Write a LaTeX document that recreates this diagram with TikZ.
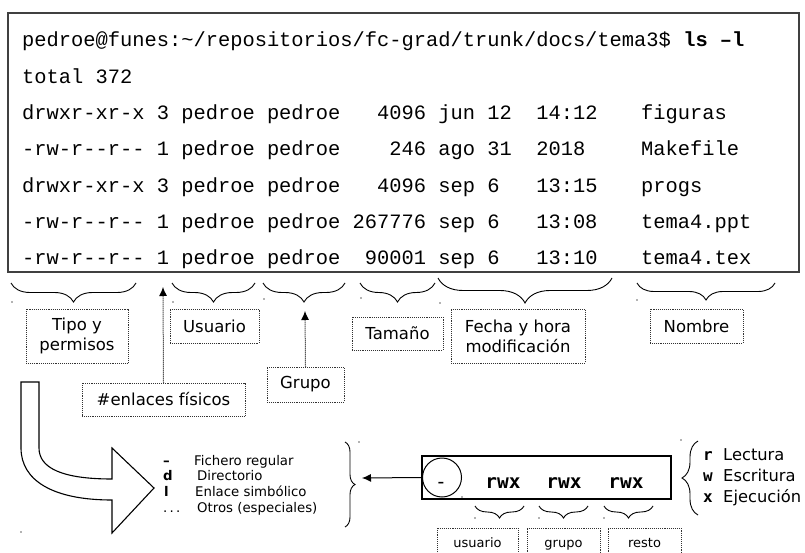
\documentclass[tikz,border=0pt]{standalone}
\usepackage{fontspec}
\setmainfont{DejaVu Sans}
\newfontfamily\term[Ligatures=TeXOff]{Liberation Mono}
\newfontfamily\dmono[Ligatures=TeXOff]{DejaVu Sans Mono}
\usetikzlibrary{decorations.pathreplacing,arrows.meta}

\begin{document}
\begin{tikzpicture}[x=1pt,y=-1pt,
  tline/.style={anchor=base west,inner sep=0pt,font=\term\fontsize{20.4}{24}\selectfont},
  tagbox/.style={draw=black!80,densely dotted,line width=0.9pt,align=center,inner sep=0pt,
                 font=\fontsize{16.5}{20}\selectfont},
  smalltag/.style={tagbox,font=\fontsize{13}{15}\selectfont,text height=9.5pt,text depth=2.5pt},
  cbrace/.style={decorate,decoration={brace,mirror,amplitude=#1},line width=0.9pt},
  rbrace/.style={decorate,decoration={brace,amplitude=#1},line width=0.9pt},
  ptr/.style={densely dotted,line width=1pt,-{Latex[length=9pt,width=8pt]}},
  solidptr/.style={line width=1pt,-{Latex[length=9pt,width=8pt]}},
  leg/.style={anchor=base west,inner sep=0pt,font=\fontsize{13.3}{15}\selectfont},
  bits/.style={anchor=base,inner sep=0pt,font=\dmono\bfseries\fontsize{19.5}{22}\selectfont},
  key/.style={anchor=base west,inner sep=0pt,font=\dmono\bfseries\fontsize{16}{19}\selectfont},
  keyword/.style={anchor=base west,inner sep=0pt,font=\fontsize{16.3}{19}\selectfont},
  speck/.style={fill=black!60}
]
\useasboundingbox (0,0) rectangle (805,553);
\clip (0,0) rectangle (805,553);

% terminal listing
\draw[black!75,line width=1.6pt] (8,13) rectangle (799,272);
\node[tline] (r1) at (22,47) {pedroe@funes:\textasciitilde/repositorios/fc-grad/trunk/docs/tema3\$ \textbf{ls –l}};
\node[tline] (r2) at (22,83.3) {total 372};
\node[tline] (r3) at (22,119.6) {drwxr-xr-x~3~pedroe~pedroe~~~4096~jun~12~~14:12};
\node[tline] (r4) at (22,155.9) {-rw-r--r--~1~pedroe~pedroe~~~~246~ago~31~~2018};
\node[tline] (r5) at (22,192.2) {drwxr-xr-x~3~pedroe~pedroe~~~4096~sep~6~~~13:15};
\node[tline] (r6) at (22,228.5) {-rw-r--r--~1~pedroe~pedroe~267776~sep~6~~~13:08};
\node[tline] (r7) at (22,264.8) {-rw-r--r--~1~pedroe~pedroe~~90001~sep~6~~~13:10};
\node[tline] (n3) at (641,119.6) {figuras};
\node[tline] (n4) at (641,155.9) {Makefile};
\node[tline] (n5) at (641,192.2) {progs};
\node[tline] (n6) at (641,228.5) {tema4.ppt};
\node[tline] (n7) at (641,264.8) {tema4.tex};

% braces under the columns
\draw[cbrace=19pt] (11,283) -- (136,283);
\draw[cbrace=19pt] (172,283) -- (255,283);
\draw[cbrace=19pt] (263,283) -- (345,283);
\draw[cbrace=19pt] (360,283) -- (435,283);
\draw[cbrace=25pt] (438,278) -- (612,278);
\draw[cbrace=17pt] (637,283) -- (775,283);

% column labels
\node[tagbox,minimum width=102pt,minimum height=54pt] (tipo) at (77,336) {Tipo y\\permisos};
\node[tagbox,minimum width=89pt,minimum height=34pt] (usr) at (214.5,326) {Usuario};
\node[tagbox,minimum width=77pt,minimum height=35pt] (grp) at (305.5,384.5) {Grupo};
\node[tagbox,minimum width=163pt,minimum height=33pt] (enl) at (163.5,399.5) {\#enlaces físicos};
\node[tagbox,minimum width=91pt,minimum height=33pt] (tam) at (397.5,333.5) {Tamaño};
\node[tagbox,minimum width=134pt,minimum height=54pt] (fecha) at (518,336) {Fecha y hora\\modificación};
\node[tagbox,minimum width=93pt,minimum height=34pt] (nom) at (696.5,326) {Nombre};

\coordinate (enlTip) at (163,287);
\coordinate (grpTip) at (305,311);
\draw[ptr] (enl.north) -- (enlTip);
\draw[ptr] (grp.north) -- (grpTip);

% bent block arrow
\draw[line width=1.1pt,fill=white] (21,382) -- (39,382) -- (39,448)
  .. controls (39,468) and (62,479) .. (112,479) -- (112,448) -- (154,488) -- (112,533) -- (112,500)
  .. controls (52,500) and (21,480) .. (21,448) -- cycle;

% file type legend
\node[leg] (k1) at (163,465) {\bfseries –};
\node[leg] (t1) at (194,465) {Fichero regular};
\node[leg] (k2) at (163,480.5) {\bfseries d};
\node[leg] (t2) at (197,480.5) {Directorio};
\node[leg] (k3) at (164,496) {\bfseries l};
\node[leg] (t3) at (195,496) {Enlace simbólico};
\node[leg] (k4) at (163,512) {.\,.\,.};
\node[leg] (t4) at (197,512) {Otros (especiales)};
\draw[rbrace=10pt] (345,442) -- (345,527);
\coordinate (legTip) at (362,478);

% permission bits
\node[draw,line width=1.1pt,minimum width=249pt,minimum height=43pt,inner sep=0pt] (perm) at (546.5,477.5) {};
\node[circle,draw,line width=1pt,minimum size=39pt,inner sep=0pt] (kind) at (442,477.5) {};
\node[bits,font=\dmono\fontsize{19.5}{22}\selectfont] (kdash) at (441,488) {-};
\node[bits] (bu) at (503,488) {rwx};
\node[bits] (bg) at (564,488) {rwx};
\node[bits] (bo) at (626,488) {rwx};
\draw[solidptr] (perm.west) -- (legTip);

\draw[cbrace=12pt] (475,506) -- (524,506);
\draw[cbrace=12pt] (539,506) -- (588,506);
\draw[cbrace=12pt] (604,506) -- (653,506);
\node[smalltag,minimum width=81pt,minimum height=32pt] (su) at (477.5,544) {usuario};
\node[smalltag,minimum width=73pt,minimum height=32pt] (sg) at (563.5,544) {grupo};
\node[smalltag,minimum width=73pt,minimum height=32pt] (so) at (644.5,544) {resto};

% meaning of r, w, x
\draw[cbrace=16pt] (698,441) -- (698,515);
\node[key] (kr) at (703,460) {r};
\node[key] (kw) at (703,481) {w};
\node[key] (kx) at (703,502) {x};
\node[keyword] (wr) at (723,460) {Lectura};
\node[keyword] (ww) at (723,481) {Escritura};
\node[keyword] (wx) at (723,502) {Ejecución};

% small specks
\foreach \p in {(12,302),(173,302),(264,299),(361,298),(440,303),(637,300),
                (21,532),(359,442),(462,497),(681,440),(475,518),(539,518),(604,518)}
  \fill[speck] \p circle (0.9);
\end{tikzpicture}
\end{document}
